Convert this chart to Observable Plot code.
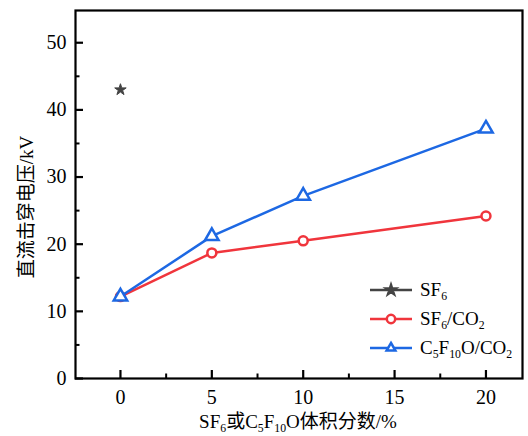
<!DOCTYPE html>
<html><head><meta charset="utf-8">
<script src="https://cdn.jsdelivr.net/npm/d3@7"></script>
<script src="https://cdn.jsdelivr.net/npm/@observablehq/plot@0.6"></script>
<style>body{margin:0;background:#fff}#chart{width:528px;height:436px}</style>
</head><body><div id="chart"></div>
<script>
// data
const xValues = [0, 5, 10, 20];
const sf6X = [0];
const sf6Y = [43.0];
const sf6co2Y = [12.2, 18.7, 20.5, 24.2];
const c5f10oY = [12.2, 21.2, 27.2, 37.2];
const xTicks = [0, 5, 10, 15, 20];
const xMinor = [2.5, 7.5, 12.5, 17.5];
const yTicks = [0, 10, 20, 30, 40, 50];
const yMinor = [5, 15, 25, 35, 45];

const FONT = "'Liberation Serif','Times New Roman','Noto Sans CJK SC',serif";
const GRAY = "#444", RED = "#f0353c", BLUE = "#1d68e3";

const W = 528, H = 436, ML = 75, MR = 6, MT = 10, MB = 58;
const FW = W - ML - MR, FH = H - MT - MB;

const sf6 = sf6X.map((x, i) => ({x, y: sf6Y[i]}));
const red = xValues.map((x, i) => ({x, y: sf6co2Y[i]}));
const blue = xValues.map((x, i) => ({x, y: c5f10oY[i]}));

const plot = Plot.plot({
  width: W, height: H,
  marginLeft: ML, marginRight: MR, marginTop: MT, marginBottom: MB,
  x: {domain: [-2.46, 22]},
  y: {domain: [0, 54.8]},
  style: {fontFamily: FONT, fontSize: "20px", color: "#000", background: "#fff"},
  marks: [
    Plot.axisX({ticks: xTicks, tickSize: 0, tickPadding: 11, fontSize: 20, label: null, tickFormat: d => d}),
    Plot.axisY({ticks: yTicks, tickSize: 0, tickPadding: 9, fontSize: 20, label: null, tickFormat: d => d}),
    Plot.ruleX(xTicks, {x: d => d, insetTop: FH - 8, stroke: "#000", strokeWidth: 2.2}),
    Plot.ruleX(xMinor, {x: d => d, insetTop: FH - 4.5, stroke: "#000", strokeWidth: 2}),
    Plot.ruleY(yTicks, {y: d => d, insetRight: FW - 8, stroke: "#000", strokeWidth: 2.2}),
    Plot.ruleY(yMinor, {y: d => d, insetRight: FW - 4.5, stroke: "#000", strokeWidth: 2}),
    Plot.frame({stroke: "#000", strokeWidth: 2.2}),
    Plot.line(red, {x: "x", y: "y", stroke: RED, strokeWidth: 2.5}),
    Plot.dot(red, {x: "x", y: "y", symbol: "circle", r: 4.5, stroke: RED, strokeWidth: 2.5, fill: "#fff"}),
    Plot.line(blue, {x: "x", y: "y", stroke: BLUE, strokeWidth: 2.5}),
    Plot.dot(blue, {x: "x", y: "y", symbol: "triangle", r: 5, stroke: BLUE, strokeWidth: 2.5, fill: "#fff"}),
    Plot.dot(sf6, {x: "x", y: "y", symbol: "star", r: 3.6, fill: GRAY, stroke: GRAY, strokeWidth: 1})
  ]
});
document.getElementById("chart").appendChild(plot);

const svg = d3.select(plot);
function richText(g, x, y, parts, size, anchor, rotate) {
  const t = g.append("text").attr("font-family", FONT).attr("font-size", size)
    .attr("fill", "#000").attr("text-anchor", anchor || "start");
  if (rotate) t.attr("transform", `translate(${x},${y}) rotate(${rotate})`);
  else t.attr("x", x).attr("y", y);
  parts.forEach(p => {
    const s = t.append("tspan").text(p.t);
    if (p.sub) s.attr("font-size", size * 0.62).attr("dy", size * 0.22);
    else if (p.after) s.attr("dy", -size * 0.22);
  });
  return t;
}
// axis titles
richText(svg, 298, 428, [{t: "SF"}, {t: "6", sub: true}, {t: "或C", after: true}, {t: "5", sub: true}, {t: "F", after: true}, {t: "10", sub: true}, {t: "O体积分数/%", after: true}], 19, "middle");
richText(svg, 33, 207, [{t: "直流击穿电压/kV"}], 19, "middle", -90);

// legend
const legend = [
  {color: GRAY, symbol: d3.symbolStar, size: 28, fill: GRAY, label: [{t: "SF"}, {t: "6", sub: true}]},
  {color: RED, symbol: d3.symbolCircle, size: 55, fill: "#fff", label: [{t: "SF"}, {t: "6", sub: true}, {t: "/CO", after: true}, {t: "2", sub: true}]},
  {color: BLUE, symbol: d3.symbolTriangle2, size: 55, fill: "#fff", label: [{t: "C"}, {t: "5", sub: true}, {t: "F", after: true}, {t: "10", sub: true}, {t: "O/CO", after: true}, {t: "2", sub: true}]}
];
const lg = svg.append("g");
legend.forEach((d, i) => {
  const y = 290 + i * 29;
  lg.append("line").attr("x1", 370).attr("x2", 412).attr("y1", y).attr("y2", y)
    .attr("stroke", d.color).attr("stroke-width", 2.5);
  lg.append("path").attr("d", d3.symbol(d.symbol, d.size)()).attr("transform", `translate(391,${y})`)
    .attr("fill", d.fill).attr("stroke", d.color).attr("stroke-width", 2.5);
  richText(lg, 420, y + 6, d.label, 19, "start");
});
</script></body></html>
